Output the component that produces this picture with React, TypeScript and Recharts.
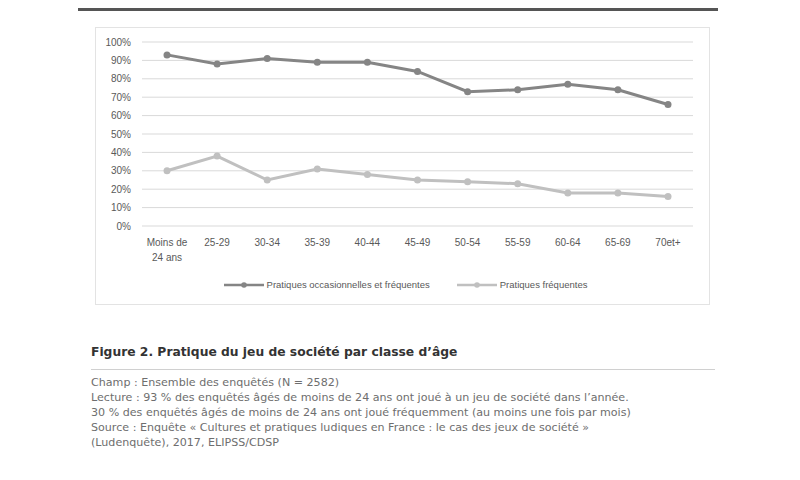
import React from "react";
import { LineChart, Line, XAxis, YAxis, CartesianGrid, Legend } from "recharts";

const categories = ["Moins de\n24 ans", "25-29", "30-34", "35-39", "40-44", "45-49", "50-54", "55-59", "60-64", "65-69", "70et+"];
const occasionnelles = [93, 88, 91, 89, 89, 84, 73, 74, 77, 74, 66];
const frequentes = [30, 38, 25, 31, 28, 25, 24, 23, 18, 18, 16];
const yTicks = [0, 10, 20, 30, 40, 50, 60, 70, 80, 90, 100];

const seriesNames = ["Pratiques occasionnelles et fréquentes", "Pratiques fréquentes"];
const DARK = "#858585";
const LIGHT = "#c0c0c0";

const data = categories.map((c, i) => ({ cat: c, occ: occasionnelles[i], freq: frequentes[i] }));

const chartFont = "'Liberation Sans', Arial, sans-serif";
const textFont = "'DejaVu Sans', Verdana, sans-serif";

const XTick = (props: any) => {
  const { x, y, payload } = props;
  const lines = String(payload.value).split("\n");
  return (
    <text x={x} y={y} textAnchor="middle" fill="#595959" fontSize={10} fontFamily={chartFont}>
      {lines.map((l: string, i: number) => (
        <tspan key={i} x={x} dy={i === 0 ? 12 : 15}>{l}</tspan>
      ))}
    </text>
  );
};

const LegendContent = (props: any) => {
  const payload = [...(props.payload || [])].sort(
    (a: any, b: any) => seriesNames.indexOf(a.value) - seriesNames.indexOf(b.value)
  );
  return (
    <div style={{ display: "flex", justifyContent: "center", alignItems: "center", fontFamily: chartFont, fontSize: 9.5, color: "#595959", paddingLeft: 6 }}>
      {payload.map((p: any, i: number) => (
        <div key={i} style={{ display: "flex", alignItems: "center", marginLeft: i === 0 ? 0 : 27 }}>
          <svg width={40} height={10} style={{ marginRight: 3 }}>
            <line x1={0} y1={5} x2={40} y2={5} stroke={p.color} strokeWidth={2.5} />
            <circle cx={20} cy={5} r={2.8} fill={p.color} />
          </svg>
          <span>{p.value}</span>
        </div>
      ))}
    </div>
  );
};

export default function App() {
  return (
    <div style={{ position: "absolute", left: 0, top: 0, width: 800, height: 480, background: "#fff", overflow: "hidden" }}>
      <div style={{ position: "absolute", left: 78, top: 8, width: 640, height: 3, background: "#555" }} />
      <div style={{ position: "absolute", left: 95, top: 27, width: 615, height: 278, border: "1px solid #e3e3e3", boxSizing: "border-box" }}>
        <LineChart width={613} height={276} data={data} margin={{ top: 14, right: 16, bottom: 48, left: 0 }}>
          <CartesianGrid vertical={false} stroke="#d9d9d9" strokeWidth={1} />
          <XAxis dataKey="cat" axisLine={false} tickLine={false} tick={<XTick />} interval={0} height={30} padding={{ left: 25, right: 25 }} />
          <YAxis
            domain={[0, 100]}
            ticks={yTicks}
            width={46}
            axisLine={false}
            tickLine={false}
            tickSize={0}
            tickMargin={11}
            tickFormatter={(v: number) => `${v}%`}
            tick={{ fill: "#595959", fontSize: 10, fontFamily: chartFont }}
            interval={0}
          />
          <Legend
            verticalAlign="middle"
            align="center"
            layout="horizontal"
            content={<LegendContent />}
            wrapperStyle={{ top: 251, left: 0, width: 613 }}
          />
          <Line name={seriesNames[0]} dataKey="occ" stroke={DARK} strokeWidth={3} dot={{ r: 3.5, fill: DARK, stroke: DARK, strokeWidth: 0 }} isAnimationActive={false} />
          <Line name={seriesNames[1]} dataKey="freq" stroke={LIGHT} strokeWidth={3} dot={{ r: 3.5, fill: LIGHT, stroke: LIGHT, strokeWidth: 0 }} isAnimationActive={false} />
        </LineChart>
      </div>
      <div style={{ position: "absolute", left: 91, top: 345, fontFamily: textFont, fontSize: 12.3, fontWeight: "bold", color: "#333", whiteSpace: "nowrap" }}>
        Figure 2. Pratique du jeu de société par classe d’âge
      </div>
      <div style={{ position: "absolute", left: 91, top: 369, width: 624, height: 1, background: "#d0d0d0" }} />
      <div style={{ position: "absolute", left: 91, top: 375, fontFamily: textFont, fontSize: 11.1, lineHeight: "15px", color: "#6e6e6e", whiteSpace: "nowrap" }}>
        <div>Champ : Ensemble des enquêtés (N = 2582)</div>
        <div>Lecture : 93 % des enquêtés âgés de moins de 24 ans ont joué à un jeu de société dans l’année.</div>
        <div>30 % des enquêtés âgés de moins de 24 ans ont joué fréquemment (au moins une fois par mois)</div>
        <div>Source : Enquête « Cultures et pratiques ludiques en France : le cas des jeux de société »</div>
        <div>(Ludenquête), 2017, ELIPSS/CDSP</div>
      </div>
    </div>
  );
}
